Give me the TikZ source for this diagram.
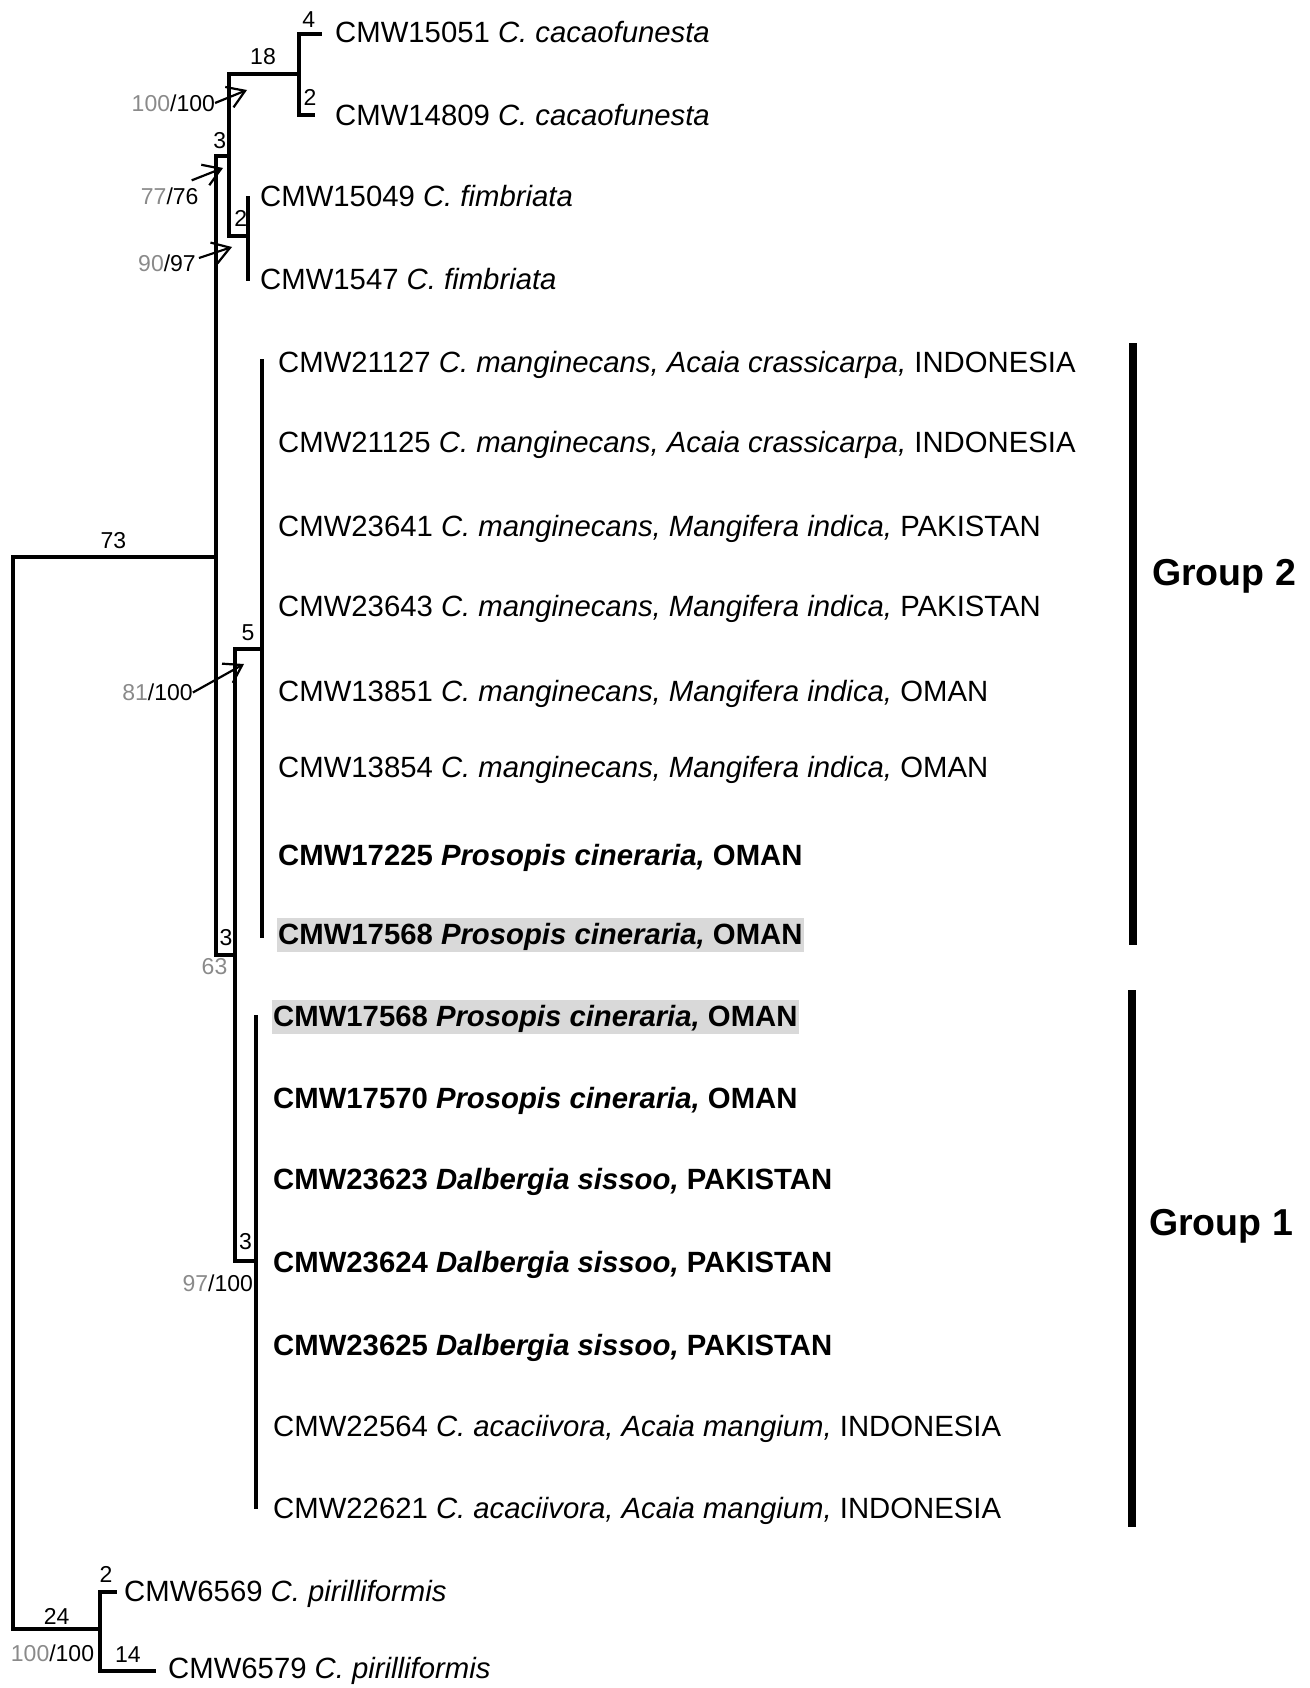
\documentclass[tikz,border=0pt]{standalone}
\usepackage{fontspec}
\setmainfont{Liberation Sans}
\usetikzlibrary{arrows.meta}
\definecolor{bsgray}{HTML}{8A8A8A}
\definecolor{hlgray}{HTML}{D9D9D9}
\begin{document}
\begin{tikzpicture}[x=1pt,y=-1pt,
  branch/.style={line width=3.3pt, line cap=rect, line join=miter},
  leaf/.style={anchor=base west, inner sep=0pt, font=\fontsize{29.3}{34}\selectfont\frenchspacing},
  hl/.style={leaf, fill=hlgray, inner xsep=1.5pt, text height=26pt, text depth=8pt},
  blen/.style={inner sep=0pt, font=\fontsize{23}{26}\selectfont},
  bsarrow/.style={line width=2.2pt, -{Straight Barb[length=17pt,width=22pt,line width=2.2pt]}},
  groupbar/.style={line width=7.5pt},
  grouplab/.style={anchor=base west, inner sep=0pt, font=\fontsize{37.5}{42}\selectfont\bfseries}]
\useasboundingbox (0,0) rectangle (1309,1688);

% inner nodes and tips
\coordinate (r) at (13,1093);
\coordinate (ing) at (216,557);
\coordinate (nA) at (229,156);
\coordinate (nCac) at (299,74);
\coordinate (t1) at (320,34);
\coordinate (t2) at (313,115);
\coordinate (nFim) at (248,236);
\coordinate (t3) at (248,198);
\coordinate (t4) at (248,279);
\coordinate (nB) at (235,955);
\coordinate (nG2) at (262,649);
\coordinate (g2a) at (262,361);
\coordinate (g2b) at (262,936);
\coordinate (nG1) at (256,1261);
\coordinate (g1a) at (256,1017);
\coordinate (g1b) at (256,1507);
\coordinate (nOut) at (100,1629);
\coordinate (t20) at (115,1592);
\coordinate (t21) at (154,1671);

% branches
\draw[branch] (r) |- (ing);
\draw[branch] (r) |- (nOut);
\draw[branch] (ing) |- (nA);
\draw[branch] (ing) |- (nB);
\draw[branch] (nA) |- (nCac);
\draw[branch] (nA) |- (nFim);
\draw[branch] (nCac) |- (t1);
\draw[branch] (nCac) |- (t2);
\draw[branch] (nFim) -- (t3);
\draw[branch] (nFim) -- (t4);
\draw[branch] (nB) |- (nG2);
\draw[branch] (nB) |- (nG1);
\draw[branch] (nG2) -- (g2a);
\draw[branch] (nG2) -- (g2b);
\draw[branch] (nG1) -- (g1a);
\draw[branch] (nG1) -- (g1b);
\draw[branch] (nOut) |- (t20);
\draw[branch] (nOut) |- (t21);

% branch lengths
\node[blen] (l4) at (308.7,19.7) {4};
\node[blen] (l18) at (263,57) {18};
\node[blen] (l2a) at (310,97.5) {2};
\node[blen] (l3a) at (219.7,141) {3};
\node[blen] (l2b) at (240.8,218.3) {2};
\node[blen] (l73) at (113.5,541) {73};
\node[blen] (l5) at (248,633) {5};
\node[blen] (l3b) at (226,938) {3};
\node[blen,text=bsgray] (l63) at (214.5,967) {63};
\node[blen] (l3c) at (245.5,1241.7) {3};
\node[blen] (l2c) at (106,1574) {2};
\node[blen] (l24) at (56.7,1616) {24};
\node[blen] (l14) at (128,1655) {14};

% bootstrap values
\node[blen] (bs1) at (173.3,103) {\textcolor{bsgray}{100}/100};
\node[blen] (bs2) at (169.7,196) {\textcolor{bsgray}{77}/76};
\node[blen] (bs3) at (167,263) {\textcolor{bsgray}{90}/97};
\node[blen] (bs4) at (157.5,692.5) {\textcolor{bsgray}{81}/100};
\node[blen] (bs5) at (217.8,1283) {\textcolor{bsgray}{97}/100};
\node[blen] (bs6) at (52.5,1653) {\textcolor{bsgray}{100}/100};

\coordinate (a1) at (247,90);
\coordinate (a2) at (223,168);
\coordinate (a3) at (232,247);
\coordinate (a4) at (244,664);
\draw[bsarrow] (bs1.east) -- (a1);
\draw[bsarrow] ([shift={(-7,-7)}]bs2.north east) -- (a2);
\draw[bsarrow] ([shift={(3,-5)}]bs3.east) -- (a3);
\draw[bsarrow] (bs4.east) -- (a4);

% leaves
\node[leaf] (L1) at (335,43) {CMW15051 \textit{C. cacaofunesta}};
\node[leaf] (L2) at (335,126) {CMW14809 \textit{C. cacaofunesta}};
\node[leaf] (L3) at (260,207) {CMW15049 \textit{C. fimbriata}};
\node[leaf] (L4) at (260,289) {CMW1547 \textit{C. fimbriata}};
\node[leaf] (L5) at (278,372) {CMW21127 \textit{C. manginecans, Acaia crassicarpa,} INDONESIA};
\node[leaf] (L6) at (278,452) {CMW21125 \textit{C. manginecans, Acaia crassicarpa,} INDONESIA};
\node[leaf] (L7) at (278,536) {CMW23641 \textit{C. manginecans, Mangifera indica,} PAKISTAN};
\node[leaf] (L8) at (278,616) {CMW23643 \textit{C. manginecans, Mangifera indica,} PAKISTAN};
\node[leaf] (L9) at (278,701) {CMW13851 \textit{C. manginecans, Mangifera indica,} OMAN};
\node[leaf] (L10) at (278,777) {CMW13854 \textit{C. manginecans, Mangifera indica,} OMAN};
\node[leaf] (L11) at (278,865) {\bfseries CMW17225 \textit{Prosopis cineraria,} OMAN};
\node[hl] (L12) at (276.5,944) {\bfseries CMW17568 \textit{Prosopis cineraria,} OMAN};
\node[hl] (L13) at (271.5,1026) {\bfseries CMW17568 \textit{Prosopis cineraria,} OMAN};
\node[leaf] (L14) at (273,1108) {\bfseries CMW17570 \textit{Prosopis cineraria,} OMAN};
\node[leaf] (L15) at (273,1189) {\bfseries CMW23623 \textit{Dalbergia sissoo,} PAKISTAN};
\node[leaf] (L16) at (273,1272) {\bfseries CMW23624 \textit{Dalbergia sissoo,} PAKISTAN};
\node[leaf] (L17) at (273,1355) {\bfseries CMW23625 \textit{Dalbergia sissoo,} PAKISTAN};
\node[leaf] (L18) at (273,1436) {CMW22564 \textit{C. acaciivora, Acaia mangium,} INDONESIA};
\node[leaf] (L19) at (273,1518) {CMW22621 \textit{C. acaciivora, Acaia mangium,} INDONESIA};
\node[leaf] (L20) at (124,1601) {CMW6569 \textit{C. pirilliformis}};
\node[leaf] (L21) at (168,1678) {CMW6579 \textit{C. pirilliformis}};

% groups
\coordinate (G2top) at (1133,343);
\coordinate (G2bot) at (1133,945);
\coordinate (G1top) at (1132,990);
\coordinate (G1bot) at (1132,1527);
\draw[groupbar] (G2top) -- (G2bot);
\draw[groupbar] (G1top) -- (G1bot);
\node[grouplab] (grp2) at (1152,585) {Group 2};
\node[grouplab] (grp1) at (1149,1235) {Group 1};
\end{tikzpicture}
\end{document}
